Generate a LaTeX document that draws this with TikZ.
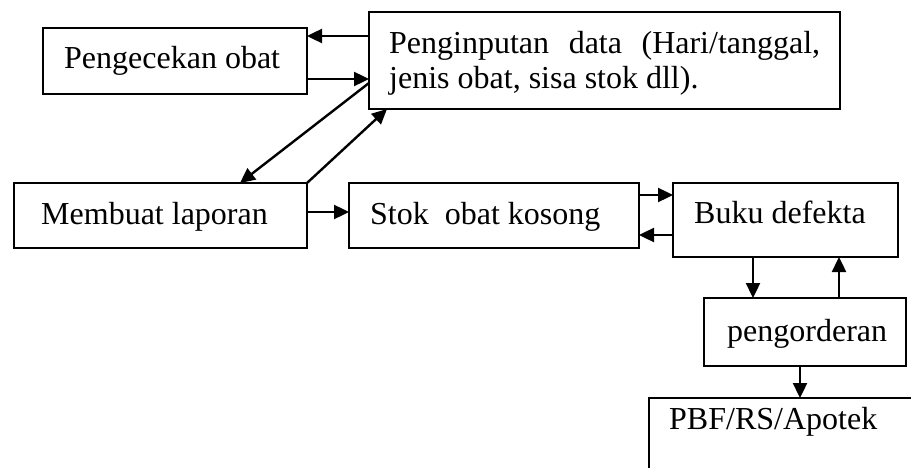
\documentclass[tikz,border=0pt]{standalone}
\usepackage{fontspec}
\setmainfont{Liberation Serif}
\usetikzlibrary{arrows.meta}
\begin{document}
\begin{tikzpicture}[x=1pt,y=-1pt,
  box/.style={draw=black,line width=2.2pt,rectangle,inner sep=0pt,outer sep=0pt},
  txt/.style={inner sep=0pt,anchor=base west,font=\fontsize{32}{35}\selectfont},
  arr/.style={line width=2.4pt,-{Triangle[length=15pt,width=14pt]}}]
\useasboundingbox (0,0) rectangle (911,468);
\clip (0,0) rectangle (911,468);
% boxes
\node[box,minimum width=264pt,minimum height=66pt] (pc) at (175,61) {};
\node[box,minimum width=471pt,minimum height=97pt] (inp) at (604.5,60.5) {};
\node[box,minimum width=293pt,minimum height=65pt] (ml) at (160.5,215.5) {};
\node[box,minimum width=290pt,minimum height=65pt] (stok) at (494,215.5) {};
\node[box,minimum width=225pt,minimum height=74pt] (buku) at (785.5,220) {};
\node[box,minimum width=202pt,minimum height=68pt] (po) at (805,332) {};
\node[box,minimum width=320pt,minimum height=130pt] (pbf) at (809,463) {};
% texts
\node[txt] (tpc) at (64,69) {Pengecekan obat};
\node[txt] (tinp) at (389,54) {\parbox[t]{431pt}{\fontsize{32}{35}\selectfont\makebox[431pt][s]{Penginputan data (Hari/tanggal,}\\jenis obat, sisa stok dll).}};
\node[txt] (tml) at (41,225) {Membuat laporan};
\node[txt] (tstok) at (370,224) {Stok\ \ obat kosong};
\node[txt] (tbuku) at (694,223) {Buku defekta};
\node[txt] (tpo) at (727,341) {pengorderan};
\node[txt] (tpbf) at (669,429) {PBF/RS/Apotek};
% connectors
\draw[arr] (inp.west |- 0,36) -- (pc.east |- 0,36);
\draw[arr] (pc.east |- 0,79) -- (inp.west |- 0,79);
\draw[arr] (inp.west |- 0,83) -- (ml.north -| 240,0);
\draw[arr] (ml.north east) -- (inp.south -| 387,0);
\draw[arr] (ml.east |- 0,212) -- (stok.west |- 0,212);
\draw[arr] (stok.east |- 0,195) -- (buku.west |- 0,195);
\draw[arr] (buku.west |- 0,235) -- (stok.east |- 0,235);
\draw[arr] (buku.south -| 753,0) -- (po.north -| 753,0);
\draw[arr] (po.north -| 839,0) -- (buku.south -| 839,0);
\draw[arr] (po.south -| 800,0) -- (pbf.north -| 800,0);
\end{tikzpicture}
\end{document}
